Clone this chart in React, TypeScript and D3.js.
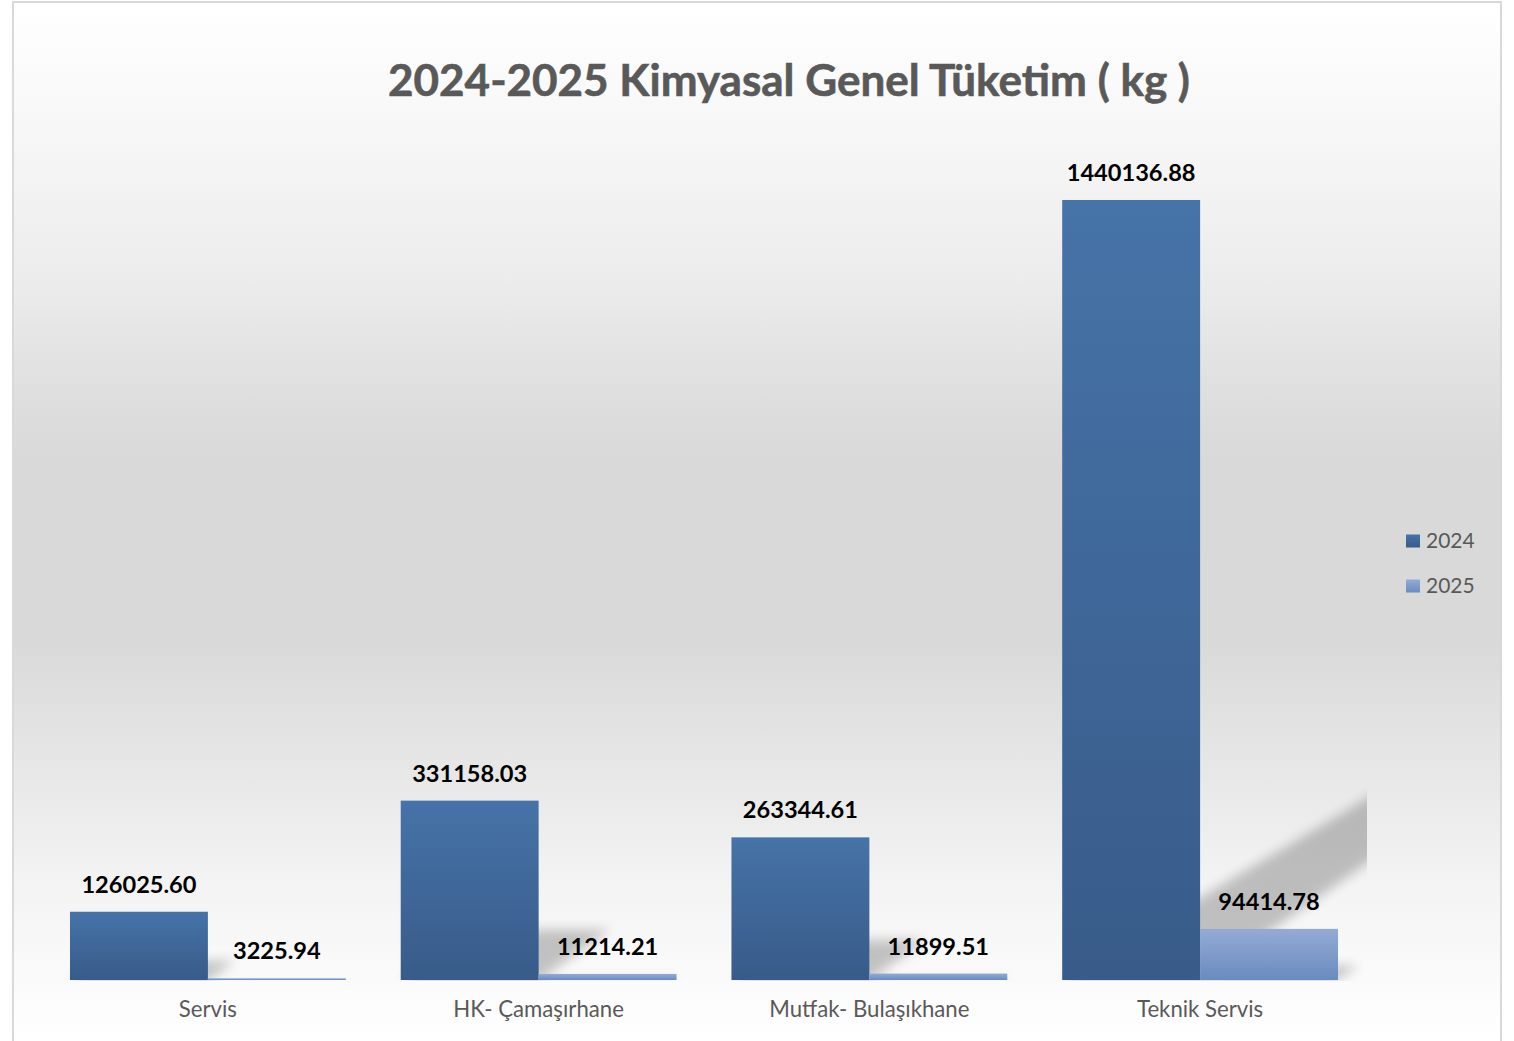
import React from "react";
import * as d3 from "d3";

const categories = ["Servis", "HK- Çamaşırhane", "Mutfak- Bulaşıkhane", "Teknik Servis"];
const seriesNames = ["2024", "2025"];
const values2024 = [126025.6, 331158.03, 263344.61, 1440136.88];
const values2025 = [3225.94, 11214.21, 11899.51, 94414.78];
const titleText = "2024-2025 Kimyasal Genel Tüketim ( kg )";

const W = 1514;
const H = 1041;
const plot = { left: 42, right: 1366, top: 113.4, bottom: 980 };
const FONT = "Lato, Carlito, 'Open Sans', sans-serif";

export default function App() {
  const x0 = d3
    .scaleBand<string>()
    .domain(categories)
    .range([plot.left, plot.right])
    .paddingInner(0.166)
    .paddingOuter(0.0846);
  const x1 = d3.scaleBand<string>().domain(seriesNames).range([0, x0.bandwidth()]).padding(0);
  const y = d3.scaleLinear().domain([0, 1600000]).range([plot.bottom, plot.top]);

  const fmt = d3.format(".2f");
  const series = [values2024, values2025];

  const bars: { cat: string; s: string; v: number; x: number; w: number; yTop: number; h: number }[] = [];
  categories.forEach((c, i) => {
    seriesNames.forEach((s, j) => {
      const v = series[j][i];
      const yTop = y(v);
      bars.push({ cat: c, s, v, x: (x0(c) as number) + (x1(s) as number), w: x1.bandwidth(), yTop, h: y(0) - yTop });
    });
  });

  const shadowPath = (b: typeof bars[number]) => {
    const yb = y(0);
    const h = b.h;
    const pts: [number, number][] = [
      [b.x, yb],
      [b.x + b.w, yb],
      [b.x + b.w + 0.4 * h, yb - 0.28 * h],
      [b.x + 0.47 * h, yb - 0.28 * h],
    ];
    return d3.line()(pts) + "Z";
  };

  const legendY = [541, 586];

  return (
    <svg
      width={W}
      height={H}
      style={{ position: "absolute", left: 0, top: 0, background: "#ffffff" }}
      xmlns="http://www.w3.org/2000/svg"
    >
      <defs>
        <linearGradient id="bg" gradientUnits="userSpaceOnUse" x1="0" y1="2" x2="0" y2="1041">
          <stop offset={0 / 1039} stopColor="#ffffff" />
          <stop offset={98 / 1039} stopColor="#f9f9f9" />
          <stop offset={278 / 1039} stopColor="#ececec" />
          <stop offset={398 / 1039} stopColor="#dedede" />
          <stop offset={458 / 1039} stopColor="#d9d9d9" />
          <stop offset={638 / 1039} stopColor="#d9d9d9" />
          <stop offset={758 / 1039} stopColor="#e6e6e6" />
          <stop offset={878 / 1039} stopColor="#f3f3f3" />
          <stop offset={998 / 1039} stopColor="#fcfcfc" />
          <stop offset={1} stopColor="#ffffff" />
        </linearGradient>
        <linearGradient id="g2024" x1="0" y1="0" x2="0" y2="1">
          <stop offset="0" stopColor="#4673a8" />
          <stop offset="1" stopColor="#385b89" />
        </linearGradient>
        <linearGradient id="g2025" x1="0" y1="0" x2="0" y2="1">
          <stop offset="0" stopColor="#94abd4" />
          <stop offset="1" stopColor="#6a8bbf" />
        </linearGradient>
        <filter id="blur" x="-20%" y="-20%" width="140%" height="140%">
          <feGaussianBlur stdDeviation="6" />
        </filter>
        <clipPath id="plotClip">
          <rect x={plot.left} y={0} width={1367 - plot.left} height={plot.bottom + 1} />
        </clipPath>
      </defs>

      <rect x={13} y={2} width={1488} height={1060} fill="url(#bg)" stroke="#d9d9d9" strokeWidth={2} />

      <text
        x={789}
        y={96}
        textAnchor="middle"
        fontFamily={FONT}
        fontWeight="bold"
        fontSize={44}
        fill="#595959"
        stroke="#595959"
        strokeWidth={0.6}
      >
        {titleText}
      </text>

      <g clipPath="url(#plotClip)">
        <g filter="url(#blur)" fill="#000000" opacity={0.22}>
          {bars.map((b, i) => (
            <path key={"sh" + i} d={shadowPath(b)} />
          ))}
        </g>
      </g>

      <g>
        {bars.map((b, i) => (
          <rect
            key={"b" + i}
            x={b.x}
            y={b.yTop}
            width={b.w}
            height={b.h}
            fill={b.s === "2024" ? "url(#g2024)" : "url(#g2025)"}
          />
        ))}
      </g>

      <g fontFamily={FONT} fontWeight="bold" fontSize={23.6} fill="#000000" textAnchor="middle">
        {bars.map((b, i) => (
          <text key={"l" + i} x={b.x + b.w / 2} y={b.yTop - 19}>
            {fmt(b.v)}
          </text>
        ))}
      </g>

      <g fontFamily={FONT} fontSize={22.2} fill="#595959" textAnchor="middle">
        {categories.map((c) => (
          <text key={c} x={(x0(c) as number) + x0.bandwidth() / 2} y={1017}>
            {c}
          </text>
        ))}
      </g>

      <g fontFamily={FONT} fontSize={21} fill="#595959">
        {seriesNames.map((s, i) => (
          <g key={s}>
            <rect
              x={1406}
              y={legendY[i] - 6.5}
              width={14}
              height={13}
              fill={i === 0 ? "url(#g2024)" : "url(#g2025)"}
            />
            <text x={1426} y={legendY[i] + 7}>
              {s}
            </text>
          </g>
        ))}
      </g>
    </svg>
  );
}
